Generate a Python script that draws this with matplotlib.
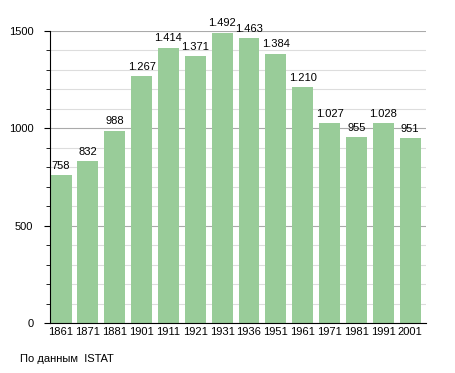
import matplotlib.pyplot as plt
from matplotlib.ticker import MultipleLocator

years = ["1861", "1871", "1881", "1901", "1911", "1921", "1931",
         "1936", "1951", "1961", "1971", "1981", "1991", "2001"]
population = [758, 832, 988, 1267, 1414, 1371, 1492,
              1463, 1384, 1210, 1027, 955, 1028, 951]
value_labels = ["758", "832", "988", "1.267", "1.414", "1.371", "1.492",
                "1.463", "1.384", "1.210", "1.027", "955", "1.028", "951"]

plt.rcParams['font.family'] = ['Liberation Sans', 'DejaVu Sans']

fig = plt.figure(figsize=(4.55, 3.73), dpi=100)
ax = fig.add_axes([0.110, 0.134, 0.826, 0.783])

x = list(range(len(years)))
ax.bar([i + 0.02 for i in x], population, width=0.78, align='edge',
       color='#99cc99', zorder=2)

for i, v in enumerate(population):
    ax.text(i + 0.41, v + 22, value_labels[i], ha='center', va='bottom',
            fontsize=8, zorder=3)

ax.set_xlim(0, len(years))
ax.set_ylim(0, 1500)
ax.set_xticks([i + 0.41 for i in x])
ax.set_xticklabels(years, fontsize=8)
ax.tick_params(axis='x', length=0, pad=3)

ax.yaxis.set_major_locator(MultipleLocator(500))
ax.yaxis.set_minor_locator(MultipleLocator(100))
ax.tick_params(axis='y', which='major', length=4, labelsize=8, pad=8)
ax.tick_params(axis='y', which='minor', length=3)

ax.grid(axis='y', which='major', color='#aaaaaa', linewidth=0.8, zorder=0)
ax.grid(axis='y', which='minor', color='#dddddd', linewidth=0.8, zorder=0)
ax.set_axisbelow(True)

ax.spines['top'].set_visible(False)
ax.spines['right'].set_visible(False)

fig.text(0.044, 0.03, "По данным  ISTAT", fontsize=8)

fig.savefig("out.png", dpi=100)
